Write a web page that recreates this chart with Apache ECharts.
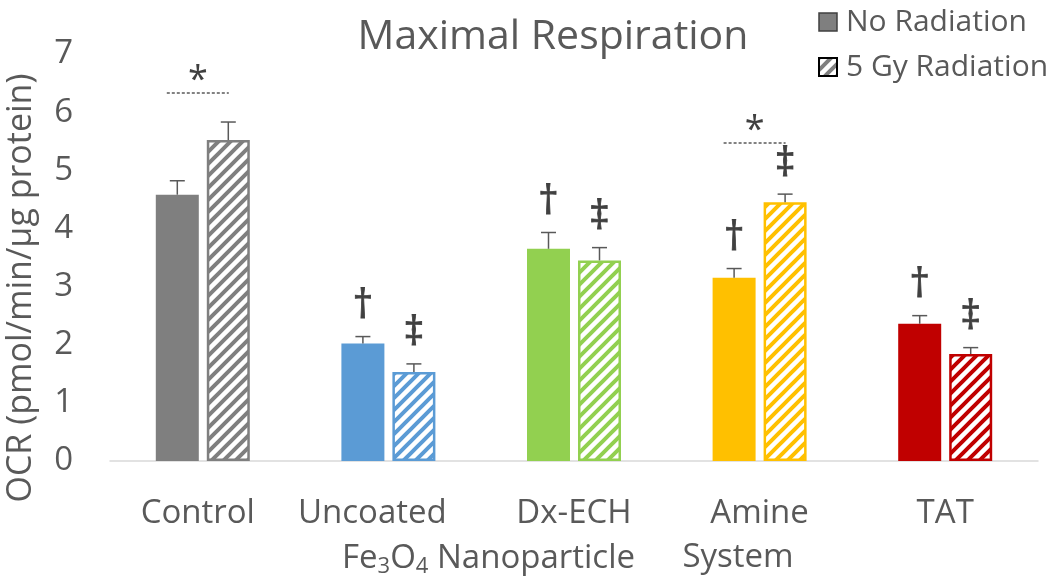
<!DOCTYPE html>
<html>
<head>
<meta charset="utf-8">
<script src="https://cdn.jsdelivr.net/npm/echarts@6/dist/echarts.min.js"></script>
<style>html,body{margin:0;padding:0;background:#fff;}#chart{width:1050px;height:577px;}</style>
</head>
<body>
<div id="chart"></div>
<script>
// ---- data ----
const categories = ['Control', 'Uncoated', 'Dx-ECH', 'Amine', 'TAT'];
const noRadiation = [4.58, 2.02, 3.65, 3.15, 2.36];
const noRadiationErr = [0.24, 0.12, 0.28, 0.16, 0.14];
const radiation = [5.52, 1.53, 3.45, 4.45, 1.84];
const radiationErr = [0.31, 0.14, 0.22, 0.14, 0.11];
const noRadMarks = ['', '†', '†', '†', '†'];
const radMarks = ['', '‡', '‡', '‡', '‡'];
const sigCategories = [0, 3];
const sigLevels = [6.33, 5.47];
const yTicks = [0, 1, 2, 3, 4, 5, 6, 7];
const groupColors = ['#7f7f7f', '#5b9bd5', '#92d050', '#ffc000', '#c00000'];

const FONT = '"Open Sans", "DejaVu Sans", sans-serif';
const TXT = '#595959';
const BAR_W = 43, BAR_GAP = 8;

function hatch(color) {
  const s = 12;
  const c = document.createElement('canvas');
  c.width = s; c.height = s;
  const g = c.getContext('2d');
  g.fillStyle = '#ffffff';
  g.fillRect(0, 0, s, s);
  g.strokeStyle = color;
  g.lineWidth = 4;
  g.lineCap = 'square';
  g.beginPath();
  g.moveTo(-s, 2 * s); g.lineTo(2 * s, -s);
  g.moveTo(-s, s); g.lineTo(s, -s);
  g.moveTo(0, 2 * s); g.lineTo(2 * s, 0);
  g.stroke();
  return { image: c, repeat: 'repeat' };
}

const chart = echarts.init(document.getElementById('chart'), null, { renderer: 'canvas' });

function errRender(sign, marks) {
  return function (params, api) {
    const cat = api.value(0), v = api.value(1), e = api.value(2);
    const base = api.coord([cat, v]);
    const top = api.coord([cat, v + e]);
    const x = base[0] + sign * (BAR_W + BAR_GAP) / 2;
    const cap = 7.5;
    const children = [
      { type: 'line', shape: { x1: x, y1: base[1], x2: x, y2: top[1] }, style: { stroke: '#595959', lineWidth: 1.5 } },
      { type: 'line', shape: { x1: x - cap, y1: top[1], x2: x + cap, y2: top[1] }, style: { stroke: '#595959', lineWidth: 1.5 } }
    ];
    const m = marks[params.dataIndex];
    if (m) {
      children.push({ type: 'text', x: x, y: top[1] - 30,
        style: { text: m, fill: '#404040', font: '40px ' + FONT, textAlign: 'center', textVerticalAlign: 'middle',
          stroke: '#404040', lineWidth: 0.8 } });
    }
    return { type: 'group', children: children };
  };
}

const option = {
  backgroundColor: '#ffffff',
  animation: false,
  title: {
    text: 'Maximal Respiration', left: 548, top: 12, textAlign: 'center',
    textStyle: { fontFamily: FONT, fontSize: 41, fontWeight: 'normal', color: TXT }
  },
  legend: {
    orient: 'vertical', left: 813, top: 0, itemWidth: 18, itemHeight: 18, itemGap: 11,
    textStyle: { fontFamily: FONT, fontSize: 30, color: TXT, lineHeight: 34, padding: [0, 0, 0, 4] },
    data: [
      { name: 'No Radiation', icon: 'rect', itemStyle: { color: '#7f7f7f', borderColor: '#404040', borderWidth: 1.5 } },
      { name: '5 Gy Radiation', icon: 'rect', itemStyle: { color: hatch('#7f7f7f'), borderColor: '#000000', borderWidth: 2 } }
    ]
  },
  grid: { left: 110, right: 12, top: 54, bottom: 116 },
  xAxis: {
    type: 'category', data: categories,
    axisLine: { lineStyle: { color: '#d9d9d9', width: 1.5 } },
    axisTick: { show: false },
    axisLabel: {
      fontFamily: FONT, fontSize: 33, color: TXT, margin: 36, interval: 0, hideOverlap: false,
      formatter: function (v, i) { return i === 1 ? '{u|' + v + '}' : (i === 0 ? '{c|' + v + '}' : v); },
      rich: {
        u: { fontFamily: FONT, fontSize: 33, color: TXT, padding: [0, 32, 0, 0] },
        c: { fontFamily: FONT, fontSize: 33, color: TXT, padding: [0, 10, 0, 0] }
      }
    }
  },
  yAxis: {
    type: 'value', min: yTicks[0], max: yTicks[yTicks.length - 1], interval: 1,
    splitLine: { show: false }, axisLine: { show: false }, axisTick: { show: false },
    axisLabel: { fontFamily: FONT, fontSize: 33, color: TXT, margin: 37 }
  },
  graphic: [
    { type: 'text', x: 21, y: 288, rotation: Math.PI / 2,
      style: { text: 'OCR (pmol/min/µg protein)', font: '34px ' + FONT, fill: TXT, textAlign: 'center', textVerticalAlign: 'middle' } },
    { type: 'text', left: 342, top: 542,
      style: { text: 'Fe{s|3}O{s|4} Nanoparticle', font: '33px ' + FONT, fill: TXT,
        rich: { s: { fontSize: 22, fontFamily: FONT, fill: TXT, padding: [16, 0, 0, 0] } } } },
    { type: 'text', x: 738, y: 558,
      style: { text: 'System', font: '33px ' + FONT, fill: TXT, textAlign: 'center', textVerticalAlign: 'middle' } }
  ],
  series: [
    {
      name: 'No Radiation', type: 'bar', barWidth: BAR_W, barGap: (BAR_GAP / BAR_W * 100).toFixed(1) + '%',
      itemStyle: { color: '#7f7f7f' },
      data: noRadiation.map((v, i) => ({ value: v, itemStyle: { color: groupColors[i] } }))
    },
    {
      name: '5 Gy Radiation', type: 'bar', barWidth: BAR_W,
      itemStyle: { color: hatch('#7f7f7f'), borderColor: '#000000', borderWidth: 2 },
      data: radiation.map((v, i) => ({ value: v, itemStyle: { color: hatch(groupColors[i]), borderColor: groupColors[i], borderWidth: 2.5 } }))
    },
    {
      type: 'custom', name: 'errNo', renderItem: errRender(-1, noRadMarks), z: 5,
      data: noRadiation.map((v, i) => [i, v, noRadiationErr[i]])
    },
    {
      type: 'custom', name: 'errRad', renderItem: errRender(1, radMarks), z: 5,
      data: radiation.map((v, i) => [i, v, radiationErr[i]])
    },
    {
      type: 'custom', name: 'sig', z: 5,
      renderItem: function (params, api) {
        const p = api.coord([api.value(0), api.value(1)]);
        const cx = p[0] - 5, half = 31;
        return { type: 'group', children: [
          { type: 'line', shape: { x1: cx - half, y1: p[1], x2: cx + half, y2: p[1] },
            style: { stroke: '#595959', lineWidth: 1.5, lineDash: [3, 2] } },
          { type: 'text', x: cx, y: p[1] - 12,
            style: { text: '*', font: '36px ' + FONT, fill: '#404040', textAlign: 'center', textVerticalAlign: 'middle' } }
        ] };
      },
      data: sigCategories.map((c, i) => [c, sigLevels[i]])
    }
  ]
};
chart.setOption(option);
</script>
</body>
</html>
